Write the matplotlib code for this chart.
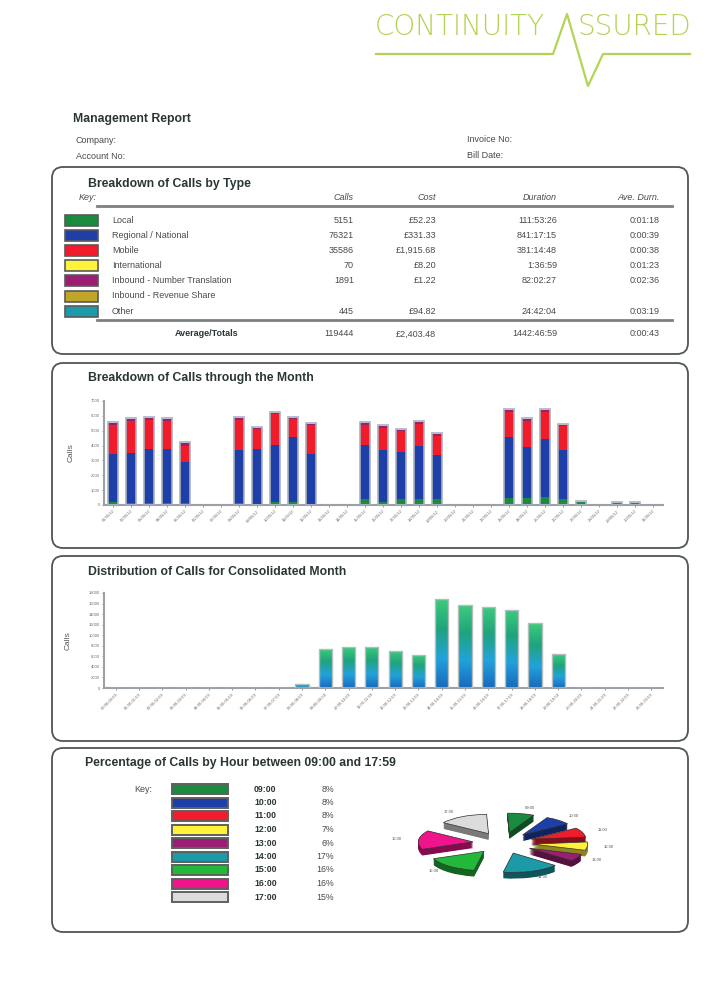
import numpy as np
import matplotlib
matplotlib.use("Agg")
import matplotlib.pyplot as plt
from matplotlib.patches import FancyBboxPatch, Rectangle
from matplotlib.colors import LinearSegmentedColormap, to_rgb

plt.rcParams['font.family'] = ['Liberation Sans', 'DejaVu Sans']

W, H = 722, 982

# ---- data: breakdown table ----
call_types = ["Local", "Regional / National", "Mobile", "International",
              "Inbound - Number Translation", "Inbound - Revenue Share", "Other"]
type_colors = ["#1a8a3e", "#1f3fa8", "#f01c2c", "#fff23a", "#9a1e72", "#bfa52a", "#1c9aa8"]
type_calls = ["5151", "76321", "35586", "70", "1891", "", "445"]
type_cost = ["£52.23", "£331.33", "£1,915.68", "£8.20", "£1.22", "", "£94.82"]
type_duration = ["111:53:26", "841:17:15", "381:14:48", "1:36:59", "82:02:27", "", "24:42:04"]
type_ave = ["0:01:18", "0:00:39", "0:00:38", "0:01:23", "0:02:36", "", "0:03:19"]
totals = ["119444", "£2,403.48", "1442:46:59", "0:00:43"]

# ---- data: calls through the month ----
days = np.arange(1, 32)
day_labels = ["%02d/05/12" % d for d in days]
local = [180, 150, 150, 150, 150, 0, 0, 150, 100, 200, 200, 100, 0, 0, 380, 220,
         400, 400, 400, 0, 0, 0, 490, 450, 510, 380, 200, 0, 150, 150, 0]
regional = [3220, 3350, 3650, 3590, 2760, 0, 0, 3520, 3700, 3870, 4390, 3300, 0, 0, 3650, 3470,
            3180, 3560, 2960, 0, 0, 0, 4100, 3460, 3920, 3310, 0, 0, 0, 0, 0]
mobile = [1970, 2140, 1950, 1900, 1070, 0, 0, 2030, 1300, 2040, 1230, 1970, 0, 0, 1340, 1520,
          1390, 1520, 1290, 0, 0, 0, 1670, 1730, 1830, 1610, 0, 0, 0, 0, 0]
inbound_nt = [130, 130, 130, 130, 170, 0, 0, 130, 110, 80, 60, 110, 0, 0, 130, 110,
              80, 130, 130, 0, 0, 0, 130, 130, 130, 60, 0, 0, 0, 0, 0]

# ---- data: distribution by hour ----
hours = np.arange(24)
hour_labels = ["%02d:00-%02d:59" % (h, h) for h in hours]
hour_calls = [0, 0, 0, 0, 0, 0, 0, 0, 700, 7460, 7760, 7840, 7080, 6260, 16840, 15700,
              15440, 14800, 12280, 6400, 0, 0, 0, 0]

# ---- data: percentage by hour ----
pie_hours = ["09:00", "10:00", "11:00", "12:00", "13:00", "14:00", "15:00", "16:00", "17:00"]
pie_pct = [8, 8, 8, 7, 6, 17, 16, 16, 15]
pie_colors = ["#1a8a3e", "#1f3fa8", "#f01c2c", "#fff23a", "#9a1e72",
              "#1c9aa8", "#22b83a", "#f0148c", "#dcdcdc"]

text_dark = "#2a3535"
text_grey = "#4a4a4a"
axis_grey = "#9aa2a8"
logo_green = "#b4d455"

fig = plt.figure(figsize=(W / 100, H / 100), dpi=100)
bg = fig.add_axes([0, 0, 1, 1])
bg.set_xlim(0, W)
bg.set_ylim(H, 0)
bg.axis("off")


def add_ax(left, top, right, bottom):
    ax = fig.add_axes([left / W, 1 - bottom / H, (right - left) / W, (bottom - top) / H])
    ax.set_facecolor("none")
    return ax


# logo
bg.text(375, 35, "CONTINUITY", fontsize=20, color=logo_green, family="DejaVu Sans",
        fontweight="light", va="baseline", ha="left")
bg.text(578, 35, "SSURED", fontsize=20, color=logo_green, family="DejaVu Sans",
        fontweight="light", va="baseline", ha="left")
bg.plot([376, 553, 567, 588, 603, 690], [54, 54, 14, 86, 54, 54], color=logo_green, lw=1.6)

# report header
bg.text(73, 119, "Management Report", fontsize=8.8, fontweight="bold", color=text_dark, va="center")
bg.text(76, 140, "Company:", fontsize=6.5, color=text_grey, va="center")
bg.text(76, 156, "Account No:", fontsize=6.5, color=text_grey, va="center")
bg.text(467, 139, "Invoice No:", fontsize=6.5, color=text_grey, va="center")
bg.text(467, 155, "Bill Date:", fontsize=6.5, color=text_grey, va="center")

# panels
for top, bottom in [(167, 354), (363, 548), (556, 741), (748, 932)]:
    bg.add_patch(FancyBboxPatch((52, top), 636, bottom - top,
                                boxstyle="round,pad=0,rounding_size=11",
                                fill=False, edgecolor="#505558", lw=1.3))

# ---- panel 1: table ----
bg.text(88, 184, "Breakdown of Calls by Type", fontsize=8.8, fontweight="bold", color=text_dark, va="center")
bg.text(97, 197, "Key:", fontsize=6.5, style="italic", color=text_grey, va="center", ha="right")
col_x = [354, 436, 557, 660]
for x, name in zip(col_x, ["Calls", "Cost", "Duration", "Ave. Durn."]):
    bg.text(x, 197, name, fontsize=6.5, style="italic", color=text_grey, va="center", ha="right")
bg.plot([97, 672], [206, 206], color="#7c8084", lw=2)
bg.plot([97, 672], [320, 320], color="#7c8084", lw=2)
for i, name in enumerate(call_types):
    y = 220 + 15.2 * i
    bg.add_patch(Rectangle((65, y - 5.5), 33, 11, facecolor=type_colors[i], edgecolor="#5a5a5a", lw=1.2))
    bg.text(112, y, name, fontsize=6.5, color=text_grey, va="center")
    for x, val in zip(col_x, [type_calls[i], type_cost[i], type_duration[i], type_ave[i]]):
        bg.text(x, y, val, fontsize=6.5, color=text_grey, va="center", ha="right")
bg.text(207, 334, "Average/Totals", fontsize=6.5, fontweight="bold", color=text_dark, va="center", ha="center")
for x, val in zip(col_x, totals):
    bg.text(x, 334, val, fontsize=6.5, color=text_grey, va="center", ha="right")


def style_axes(ax):
    for s in ["top", "right"]:
        ax.spines[s].set_visible(False)
    for s in ["left", "bottom"]:
        ax.spines[s].set_color(axis_grey)
        ax.spines[s].set_linewidth(1.5)
    ax.tick_params(labelsize=3, colors="#6a6a6a", length=1.5, width=0.5, pad=1.5)


# ---- panel 2: stacked bars ----
bg.text(88, 378, "Breakdown of Calls through the Month", fontsize=8.8, fontweight="bold",
        color=text_dark, va="center")
ax1 = add_ax(104, 401, 663, 505)
bottom = np.zeros(len(days))
for vals, col in zip([local, regional, mobile, inbound_nt],
                     [type_colors[0], type_colors[1], type_colors[2], type_colors[4]]):
    ax1.bar(days, vals, width=0.55, bottom=bottom, color=col, lw=0, zorder=2)
    bottom = bottom + np.array(vals)
tot = bottom + np.where(bottom > 0, 60, 0)
mask = tot > 0
ax1.bar(days[mask], tot[mask], width=0.55, fill=False, edgecolor="#aab0bd", lw=1.2, zorder=3)
ax1.set_xlim(0.5, 31.55)
ax1.set_ylim(0, 7000)
ax1.set_yticks(np.arange(0, 7001, 1000))
ax1.set_xticks(days)
ax1.set_xticklabels(day_labels, rotation=45, ha="right", rotation_mode="anchor")
ax1.set_ylabel("Calls", fontsize=6, color="#555555", labelpad=12)
style_axes(ax1)

# ---- panel 3: gradient bars ----
bg.text(88, 572, "Distribution of Calls for Consolidated Month", fontsize=8.8, fontweight="bold",
        color=text_dark, va="center")
ax2 = add_ax(104, 593, 663, 688)
grad_cmap = LinearSegmentedColormap.from_list("g", ["#1769bd", "#22a2dc", "#1fa47c", "#3ccc7c"])
bars = ax2.bar(hours, hour_calls, width=0.57, color="none", edgecolor="#b4bcbc", lw=1.0, zorder=3)
grad = np.linspace(0, 1, 256).reshape(-1, 1)
for b in bars:
    h = b.get_height()
    if h <= 0:
        continue
    x0 = b.get_x()
    im = ax2.imshow(grad, extent=[x0, x0 + b.get_width(), 0, h], aspect="auto",
                    cmap=grad_cmap, origin="lower", zorder=2)
    im.set_clip_path(b)
ax2.set_aspect("auto")
ax2.set_xlim(-0.5, 23.5)
ax2.set_ylim(0, 18000)
ax2.set_yticks(np.arange(0, 18001, 2000))
ax2.set_xticks(hours)
ax2.set_xticklabels(hour_labels, rotation=45, ha="right", rotation_mode="anchor")
ax2.set_ylabel("Calls", fontsize=6, color="#555555", labelpad=12)
style_axes(ax2)

# ---- panel 4: pie ----
bg.text(85, 763, "Percentage of Calls by Hour between 09:00 and 17:59", fontsize=8.8,
        fontweight="bold", color=text_dark, va="center")
bg.text(152, 789, "Key:", fontsize=6.5, color=text_grey, va="center", ha="right")
for i, (lab, pct) in enumerate(zip(pie_hours, pie_pct)):
    y = 789 + 13.5 * i
    bg.add_patch(Rectangle((172, y - 5), 56, 10, facecolor=pie_colors[i], edgecolor="#606060", lw=1.4))
    bg.text(254, y, lab, fontsize=6.3, fontweight="bold", color=text_dark, va="center")
    bg.text(334, y, "%d%%" % pct, fontsize=6.3, color=text_grey, va="center", ha="right")

axp = add_ax(388, 793, 618, 893)
explode = [0.55] * len(pie_pct)
dark = [tuple(c * 0.55 for c in to_rgb(col)) for col in pie_colors]
for k in np.linspace(0.32, 0.02, 12):
    axp.pie(pie_pct, explode=explode, colors=dark, startangle=92, counterclock=False,
            center=(0, -k), wedgeprops=dict(linewidth=0))
axp.pie(pie_pct, explode=explode, colors=pie_colors, startangle=92, counterclock=False,
        labels=pie_hours, labeldistance=1.3,
        textprops=dict(fontsize=3, color="#555555"),
        wedgeprops=dict(linewidth=0.5, edgecolor="#333333"))
axp.set_aspect("auto")
axp.set_xlim(-2.1, 2.1)
axp.set_ylim(-2.58, 2.58)
axp.axis("off")

fig.savefig("out.png", dpi=100, facecolor="white")
